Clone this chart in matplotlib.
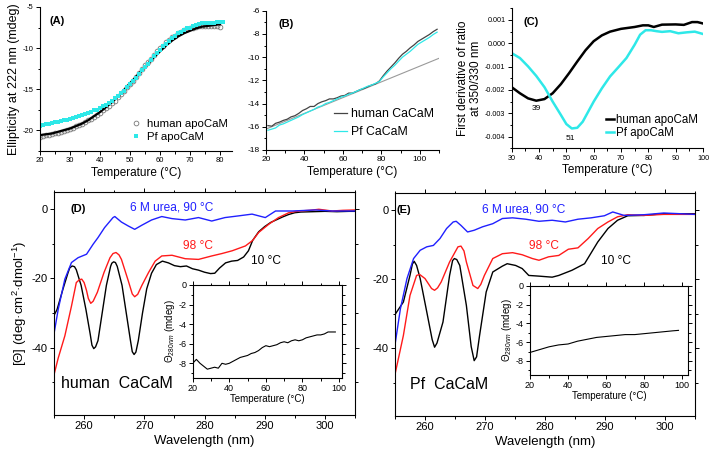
import numpy as np
import matplotlib
matplotlib.use('Agg')
from matplotlib import pyplot as plt
from matplotlib.ticker import MultipleLocator, FormatStrFormatter

plt.rcParams['font.family'] = ['Liberation Sans', 'DejaVu Sans']
plt.rcParams['mathtext.fontset'] = 'custom'
plt.rcParams['mathtext.rm'] = 'Liberation Sans'
plt.rcParams['mathtext.it'] = 'Liberation Sans:italic'
plt.rcParams['axes.linewidth'] = 0.8
plt.rcParams['axes.unicode_minus'] = False

cyan = '#2ee8e8'

#%%
# (A) ellipticity at 222 nm, apoCaM
T_A_human = np.arange(20, 81, 1)
human_A = [-20.8, -20.7, -20.6, -20.6, -20.5, -20.4, -20.3, -20.2, -20.1, -20.0,
           -19.8, -19.7, -19.5, -19.4, -19.2, -19.0, -18.8, -18.6, -18.4, -18.1,
           -17.9, -17.6, -17.3, -17.0, -16.7, -16.4, -16.0, -15.6, -15.2, -14.8,
           -14.4, -14.0, -13.5, -13.0, -12.6, -12.1, -11.7, -11.3, -10.8, -10.4,
           -10.0, -9.7, -9.3, -9.0, -8.7, -8.5, -8.2, -8.0, -7.8, -7.7,
           -7.6, -7.5, -7.4, -7.3, -7.3, -7.3, -7.3, -7.3, -7.3, -7.3, -7.4]
T_A_fit = np.arange(20, 81, 2)
human_fit = [-20.6, -20.5, -20.4, -20.2, -20.0, -19.8, -19.5, -19.2, -18.8, -18.3,
             -17.8, -17.2, -16.6, -15.9, -15.1, -14.3, -13.5, -12.7, -11.9, -11.1,
             -10.4, -9.7, -9.1, -8.6, -8.2, -7.9, -7.6, -7.4, -7.3, -7.2, -7.1]
T_A_pf = np.arange(20, 82, 1)
pf_A = [-19.5, -19.4, -19.3, -19.2, -19.1, -19.0, -18.95, -18.9, -18.8, -18.7,
        -18.6, -18.5, -18.4, -18.3, -18.2, -18.0, -17.9, -17.8, -17.6, -17.5,
        -17.3, -17.1, -16.9, -16.7, -16.4, -16.1, -15.8, -15.5, -15.2, -14.8,
        -14.4, -14.0, -13.6, -13.2, -12.7, -12.3, -11.9, -11.5, -11.0, -10.6,
        -10.2, -9.8, -9.5, -9.1, -8.8, -8.5, -8.2, -8.0, -7.8, -7.6,
        -7.5, -7.3, -7.2, -7.1, -7.0, -7.0, -6.9, -6.9, -6.9, -6.8, -6.8, -6.8]

# (B) CaCaM
T_B = np.arange(21, 110, 2)
human_B = [-15.9, -15.95, -15.7, -15.6, -15.45, -15.35, -15.15, -15.05, -14.85, -14.6,
           -14.45, -14.25, -14.25, -14.0, -13.85, -13.75, -13.6, -13.6, -13.5, -13.35,
           -13.3, -13.1, -13.1, -12.95, -12.8, -12.7, -12.55, -12.4, -12.3, -12.05,
           -11.6, -11.2, -10.85, -10.5, -10.1, -9.75, -9.5, -9.2, -8.95, -8.65,
           -8.45, -8.25, -8.05, -7.8, -7.6]
pf_B = [-16.3, -16.2, -16.1, -15.85, -15.75, -15.6, -15.45, -15.3, -15.15, -14.95,
        -14.8, -14.65, -14.5, -14.3, -14.2, -14.0, -13.9, -13.75, -13.6, -13.45,
        -13.35, -13.2, -13.1, -12.95, -12.8, -12.65, -12.5, -12.4, -12.25, -12.1,
        -11.7, -11.35, -11.0, -10.7, -10.35, -10.0, -9.75, -9.5, -9.2, -8.9,
        -8.7, -8.5, -8.3, -8.05, -7.85]
baseline_T = [20, 110]
baseline_B = [-16.2, -10.1]

# (C) first derivative of 350/330 ratio
T_C_human = [30, 33, 36, 39, 42, 45, 48, 51, 54, 57, 60, 63, 66, 70, 75, 78, 80, 82, 85, 90, 93, 96, 98, 100]
deriv_human = [-0.00188, -0.00214, -0.00236, -0.00246, -0.00239, -0.00214, -0.00175, -0.00128,
               -0.00078, -0.0003, 0.00009, 0.00034, 0.0005, 0.00062, 0.0007, 0.00077, 0.00077,
               0.0007, 0.0008, 0.00081, 0.00079, 0.00091, 0.00091, 0.00085]
T_C_pf = [30, 33, 36, 39, 42, 45, 48, 50, 52, 54, 56, 58, 60, 63, 66, 69, 72, 75, 77, 79, 81, 83, 85, 88, 91, 94, 97, 100]
deriv_pf = [-0.00042, -0.00063, -0.00099, -0.0014, -0.00188, -0.0025, -0.00307, -0.00346,
            -0.00365, -0.00362, -0.00336, -0.00293, -0.0025, -0.00193, -0.00142, -0.00103,
            -0.00063, -0.00006, 0.00037, 0.00056, 0.00056, 0.00052, 0.00049, 0.00052,
            0.00043, 0.00047, 0.0005, 0.0004]

# (D) human CaCaM near-UV CD
wl_D_10 = [254.6, 255.5, 256.5, 257.3, 257.6, 258.0, 258.4, 258.7, 259.5, 260.3, 261.0, 261.3,
           261.6, 261.9, 262.3, 263.0, 263.7, 264.4, 264.6, 264.9, 265.2, 265.5, 266.3, 267.0,
           267.7, 268.0, 268.3, 268.6, 269.0, 269.7, 270.4, 271.2, 272.0, 273.0, 274, 275,
           276, 277, 278, 279, 280, 281, 281.7, 282.5, 283.5, 284.5, 285.5, 286.5, 287.3, 288,
           289, 290, 291, 292, 293, 294, 295, 296, 298, 300, 302, 304, 305]
th_D_10 = [-32, -29, -23, -18.5, -17.0, -16.4, -16.6, -17.5, -22, -29, -36, -39.3,
           -40.3, -39.8, -38, -30, -22, -16.5, -15.6, -15.2, -15.4, -16.5, -22, -30,
           -38, -41.2, -42, -41.3, -38, -30, -23, -18.5, -16, -15, -15.5, -16.3,
           -16.6, -16.4, -17.2, -17.6, -18.2, -18.6, -18.5, -17, -15.5, -15, -14.8, -13.8, -12, -9,
           -6.5, -5, -3.8, -3, -2.2, -1.5, -1.0, -0.8, -0.7, -0.6, -0.7, -0.6, -0.6]
wl_D_98 = [254.6, 255.7, 256.8, 257.9, 258.7, 259.2, 259.6, 260.0, 260.4, 260.7, 261.1, 261.5,
           262.2, 263.3, 264.3, 264.8, 265.3, 265.8, 266.2, 267.3, 268.0, 268.4, 268.9, 269.6,
           270.7, 271.8, 272.9, 274.6, 276.8, 279, 281.2, 282.9, 284.6, 286.8, 288, 289,
           290.7, 292.3, 294, 295.7, 297.5, 299, 301.2, 303, 305]
th_D_98 = [-50.6, -43, -36.6, -28, -21.2, -20.4, -20.2, -21.2, -23.5, -25.8, -27.2, -26.6,
           -24, -18.3, -14, -12.8, -12.5, -13.2, -14.5, -20.5, -24.5, -25.3, -24.6, -22,
           -18.3, -15, -13.5, -13.3, -14.3, -14.5, -13.5, -12.8, -12.0, -10.6, -9, -6.7,
           -4.3, -2.4, -1.0, -0.5, -0.3, 0, -0.5, -0.3, -0.2]
wl_D_urea = [254.6, 255.7, 256.8, 257.9, 259, 260.4, 261.5, 262.3, 263.4, 264.8, 265.1, 266.2,
             267.3, 268.4, 269.6, 271.2, 272.9, 274.6, 276.8, 279, 281.2, 283.4, 285.7, 287.9,
             290.1, 291.8, 294.6, 298.4, 301.2, 305]
th_D_urea = [-40, -28.9, -20.2, -15.4, -14, -13, -10.1, -8.2, -5.3, -2.4, -2.1, -3.7,
             -4.8, -5.8, -4.6, -3.1, -2.1, -2.7, -3.1, -2.4, -3.4, -2.4, -1.9, -1.4,
             -2.4, -0.5, -0.5, -0.2, -0.5, -0.5]
T_inD = np.arange(20, 99, 2)
th280_D = [-8.0, -7.6, -8.0, -8.3, -8.6, -8.5, -8.4, -8.5, -8.0, -8.1,
           -8.0, -7.8, -7.6, -7.4, -7.3, -7.2, -7.0, -6.9, -6.7, -6.4,
           -6.2, -6.3, -6.2, -6.1, -5.9, -5.8, -5.9, -5.7, -5.6, -5.7,
           -5.6, -5.4, -5.3, -5.2, -5.1, -5.1, -5.0, -4.8, -4.8, -4.8]

# (E) Pf CaCaM near-UV CD
wl_E_10 = [254.9, 256.4, 257.5, 257.9, 258.2, 258.6, 259.2, 260.3, 261.2, 261.6, 262.0, 263.0,
           264.1, 264.6, 264.9, 265.3, 265.8, 266.9, 267.7, 268.2, 268.6, 269.1, 270.2, 271.3,
           272.9, 273.7, 275.1, 276.2, 277.3, 279, 281.2, 282.3, 284.5, 286.6, 288.8, 290.5,
           292.1, 293.8, 296.5, 299.8, 305]
th_E_10 = [-30.5, -26.6, -18.9, -15.6, -14.8, -16.0, -19.8, -29.5, -37.5, -39.7, -38.5, -32.4,
           -18.9, -14.6, -14, -14.3, -16, -27.6, -39.5, -43.6, -42.5, -36.3, -23.7, -17.9,
           -16.2, -15.5, -16, -16.9, -18.9, -19.1, -19.4, -18.9, -17.4, -15.5, -9.2, -5.3,
           -2.9, -1.6, -1.5, -1.0, -1.0]
wl_E_98 = [254.9, 256.4, 257.5, 258.6, 259.1, 260, 261.1, 261.6, 262.1, 262.7, 264.1, 265.5,
           266, 266.5, 266.9, 268, 268.8, 269.3, 269.9, 271.3, 272.9, 274.6, 276.2, 277.9,
           279, 280.6, 282.3, 283.9, 285.5, 287.2, 288.8, 290.5, 292.1, 293.8, 296.5, 299.8, 305]
th_E_98 = [-48.4, -36.3, -24.7, -18.9, -18.6, -19.8, -22.7, -23.2, -22.5, -20.8, -15, -10.6,
           -10.4, -11.8, -15, -21.8, -22.7, -21.5, -18.9, -14, -12.6, -12.3, -12.9, -14,
           -14.5, -13.5, -13.1, -11.3, -10.9, -8.2, -5.3, -3.4, -1.9, -1.3, -1.5, -1.2, -1.2]
wl_E_urea = [254.9, 255.9, 257, 258.1, 259.2, 260.3, 261.4, 262.5, 263.6, 264.7, 265.2, 266,
             267.1, 268.2, 269.6, 271.3, 272.9, 274.6, 276.8, 279, 281.2, 283.4, 285.5, 287.7,
             289.9, 291.3, 293.2, 296.5, 299.8, 305]
th_E_urea = [-40.2, -28.6, -19.8, -14, -11.6, -10.6, -10.2, -8.2, -5.3, -3.4, -3.2, -4.4,
             -6.3, -5.8, -4.8, -3.9, -2.4, -2.2, -2.6, -3.2, -2.9, -3.4, -2.6, -2.2,
             -1.6, -0.5, -1.5, -1.3, -0.8, -1.2]
T_inE = [20, 25, 30, 35, 40, 45, 50, 55, 60, 65, 70, 75, 80, 85, 90, 95, 98]
th280_E = [-7.1, -6.8, -6.5, -6.3, -6.2, -5.9, -5.7, -5.5, -5.4, -5.3, -5.2, -5.2, -5.1, -5.0, -4.9, -4.8, -4.75]

#%%
def style(ax, fs, box=False):
    ax.tick_params(which='both', direction='out', labelsize=fs, width=0.7, pad=1.5)
    ax.tick_params(which='major', length=3)
    ax.tick_params(which='minor', length=1.8)
    if box:
        ax.tick_params(which='both', top=True, right=True)
    else:
        ax.spines['top'].set_visible(False)
        ax.spines['right'].set_visible(False)

fig = plt.figure(figsize=(7.09, 4.57), dpi=100)

# A
axA = fig.add_axes([0.0564, 0.6702, 0.2708, 0.3145])
axA.plot(T_A_human, human_A, 'o', mfc='none', mec='#777777', ms=3.4, mew=0.6, label='human apoCaM')
axA.plot(T_A_fit, human_fit, color='k', lw=1.6)
axA.plot(T_A_pf, pf_A, 's', color=cyan, ms=3.4, mew=0, label='Pf apoCaM')
axA.set_xlim(20, 84)
axA.set_ylim(-22.5, -5)
axA.xaxis.set_major_locator(MultipleLocator(10))
axA.xaxis.set_minor_locator(MultipleLocator(5))
axA.yaxis.set_major_locator(MultipleLocator(5))
axA.yaxis.set_minor_locator(MultipleLocator(2.5))
style(axA, 5.5)
axA.set_xlabel('Temperature (°C)', fontsize=8.5, labelpad=2)
axA.set_ylabel('Ellipticity at 222 nm (mdeg)', fontsize=9, labelpad=2)
axA.text(0.05, 0.88, '(A)', transform=axA.transAxes, fontsize=8, fontweight='bold')
axA.legend(loc='lower right', bbox_to_anchor=(1.0, 0.03), frameon=False, fontsize=8.2,
           handlelength=0.8, handletextpad=0.5, labelspacing=0.25, borderaxespad=0)

# B
axB = fig.add_axes([0.3752, 0.6718, 0.244, 0.3048])
axB.plot(baseline_T, baseline_B, color='#9a9a9a', lw=0.8)
axB.plot(T_B, human_B, color='#444444', lw=0.9, label='human CaCaM')
axB.plot(T_B, pf_B, color=cyan, lw=0.9, label='Pf CaCaM')
axB.set_xlim(20, 110)
axB.set_ylim(-18, -6)
axB.xaxis.set_major_locator(MultipleLocator(20))
axB.xaxis.set_minor_locator(MultipleLocator(10))
axB.yaxis.set_major_locator(MultipleLocator(2))
axB.yaxis.set_minor_locator(MultipleLocator(1))
style(axB, 6)
axB.set_xlabel('Temperature (°C)', fontsize=8.5, labelpad=2)
axB.text(0.07, 0.88, '(B)', transform=axB.transAxes, fontsize=8, fontweight='bold')
axB.legend(loc='lower right', bbox_to_anchor=(1.0, 0.05), frameon=False, fontsize=8.8,
           handlelength=1.1, handletextpad=0.3, labelspacing=0.5, borderaxespad=0)

# C
axC = fig.add_axes([0.7217, 0.6755, 0.2698, 0.3063])
axC.plot(T_C_human, deriv_human, color='k', lw=1.8, label='human apoCaM')
axC.plot(T_C_pf, deriv_pf, color=cyan, lw=1.8, label='Pf apoCaM')
axC.set_xlim(30, 100)
axC.set_ylim(-0.0045, 0.0015)
axC.xaxis.set_major_locator(MultipleLocator(10))
axC.xaxis.set_minor_locator(MultipleLocator(5))
axC.yaxis.set_major_locator(MultipleLocator(0.001))
axC.yaxis.set_minor_locator(MultipleLocator(0.0005))
axC.yaxis.set_major_formatter(FormatStrFormatter('%.3f'))
style(axC, 5.2)
axC.set_xlabel('Temperature (°C)', fontsize=8.5, labelpad=2)
axC.set_ylabel('First derivative of ratio\nat 350/330 nm', fontsize=8.5, labelpad=2, linespacing=1.1)
axC.text(0.06, 0.88, '(C)', transform=axC.transAxes, fontsize=8, fontweight='bold')
axC.text(39, -0.0028, '39', fontsize=6, ha='center', va='center')
axC.text(51.5, -0.0041, '51', fontsize=6, ha='center', va='center')
axC.legend(loc='lower right', bbox_to_anchor=(1.0, 0.03), frameon=False, fontsize=8.3,
           handlelength=0.7, handletextpad=0.2, labelspacing=0.15, borderaxespad=0)

# D and E
def cd_panel(rect, in_rect, series, temp, th280, in_xmax, tag, name, pos):
    ax = fig.add_axes(rect)
    for wl, th, c in series:
        ax.plot(wl, th, color=c, lw=1.0)
    ax.set_xlim(255, 305)
    ax.set_ylim(-59.5, 5)
    ax.xaxis.set_major_locator(MultipleLocator(10))
    ax.xaxis.set_minor_locator(MultipleLocator(5))
    ax.yaxis.set_major_locator(MultipleLocator(20))
    ax.yaxis.set_minor_locator(MultipleLocator(10))
    style(ax, 8, box=True)
    ax.set_xlabel('Wavelength (nm)', fontsize=9.5, labelpad=3)
    ax.text(*pos['tag'], tag, fontsize=8, fontweight='bold', va='center')
    ax.text(*pos['urea'], '6 M urea, 90 °C', color='#2020ff', fontsize=8.6, va='center')
    ax.text(*pos['98'], '98 °C', color='#ff1a1a', fontsize=8.6, va='center')
    ax.text(*pos['10'], '10 °C', color='k', fontsize=8.6, va='center')
    ax.text(*pos['name'], name, fontsize=11.5, va='center')
    axi = fig.add_axes(in_rect)
    axi.plot(temp, th280, color='k', lw=0.8)
    axi.set_xlim(20, in_xmax)
    axi.set_ylim(-9.5, 0)
    axi.xaxis.set_major_locator(MultipleLocator(20))
    axi.xaxis.set_minor_locator(MultipleLocator(10))
    axi.yaxis.set_major_locator(MultipleLocator(2))
    axi.yaxis.set_minor_locator(MultipleLocator(1))
    style(axi, 6.5, box=True)
    axi.set_xlabel('Temperature (°C)', fontsize=7, labelpad=0.5)
    axi.set_ylabel('Θ$_{280nm}$ (mdeg)', fontsize=7, labelpad=1)
    return ax

axD = cd_panel([0.0762, 0.0919, 0.4245, 0.4880], [0.2718, 0.1729, 0.2102, 0.2035],
               [(wl_D_10, th_D_10, 'k'), (wl_D_98, th_D_98, '#ff1a1a'), (wl_D_urea, th_D_urea, '#2020ff')],
               T_inD, th280_D, 101.5, '(D)', 'human  CaCaM',
               {'tag': (257.7, 0), 'urea': (267.6, 0.6), '98': (276.5, -10.5), '10': (287.8, -15),
                'name': (256.2, -50.5)})
axD.set_ylabel('[Θ] (deg·cm$^2$·dmol$^{-1}$)', fontsize=9.5, labelpad=2)

axE = cd_panel([0.5571, 0.0908, 0.4231, 0.4869], [0.7475, 0.1794, 0.2229, 0.1954],
               [(wl_E_10, th_E_10, 'k'), (wl_E_98, th_E_98, '#ff1a1a'), (wl_E_urea, th_E_urea, '#2020ff')],
               T_inE, th280_E, 103, '(E)', 'Pf  CaCaM',
               {'tag': (255.3, 0), 'urea': (269.5, 0.3), '98': (277.3, -10.5), '10': (289.4, -14.7),
                'name': (257.5, -50.5)})

fig.savefig('out.png', dpi=100)
